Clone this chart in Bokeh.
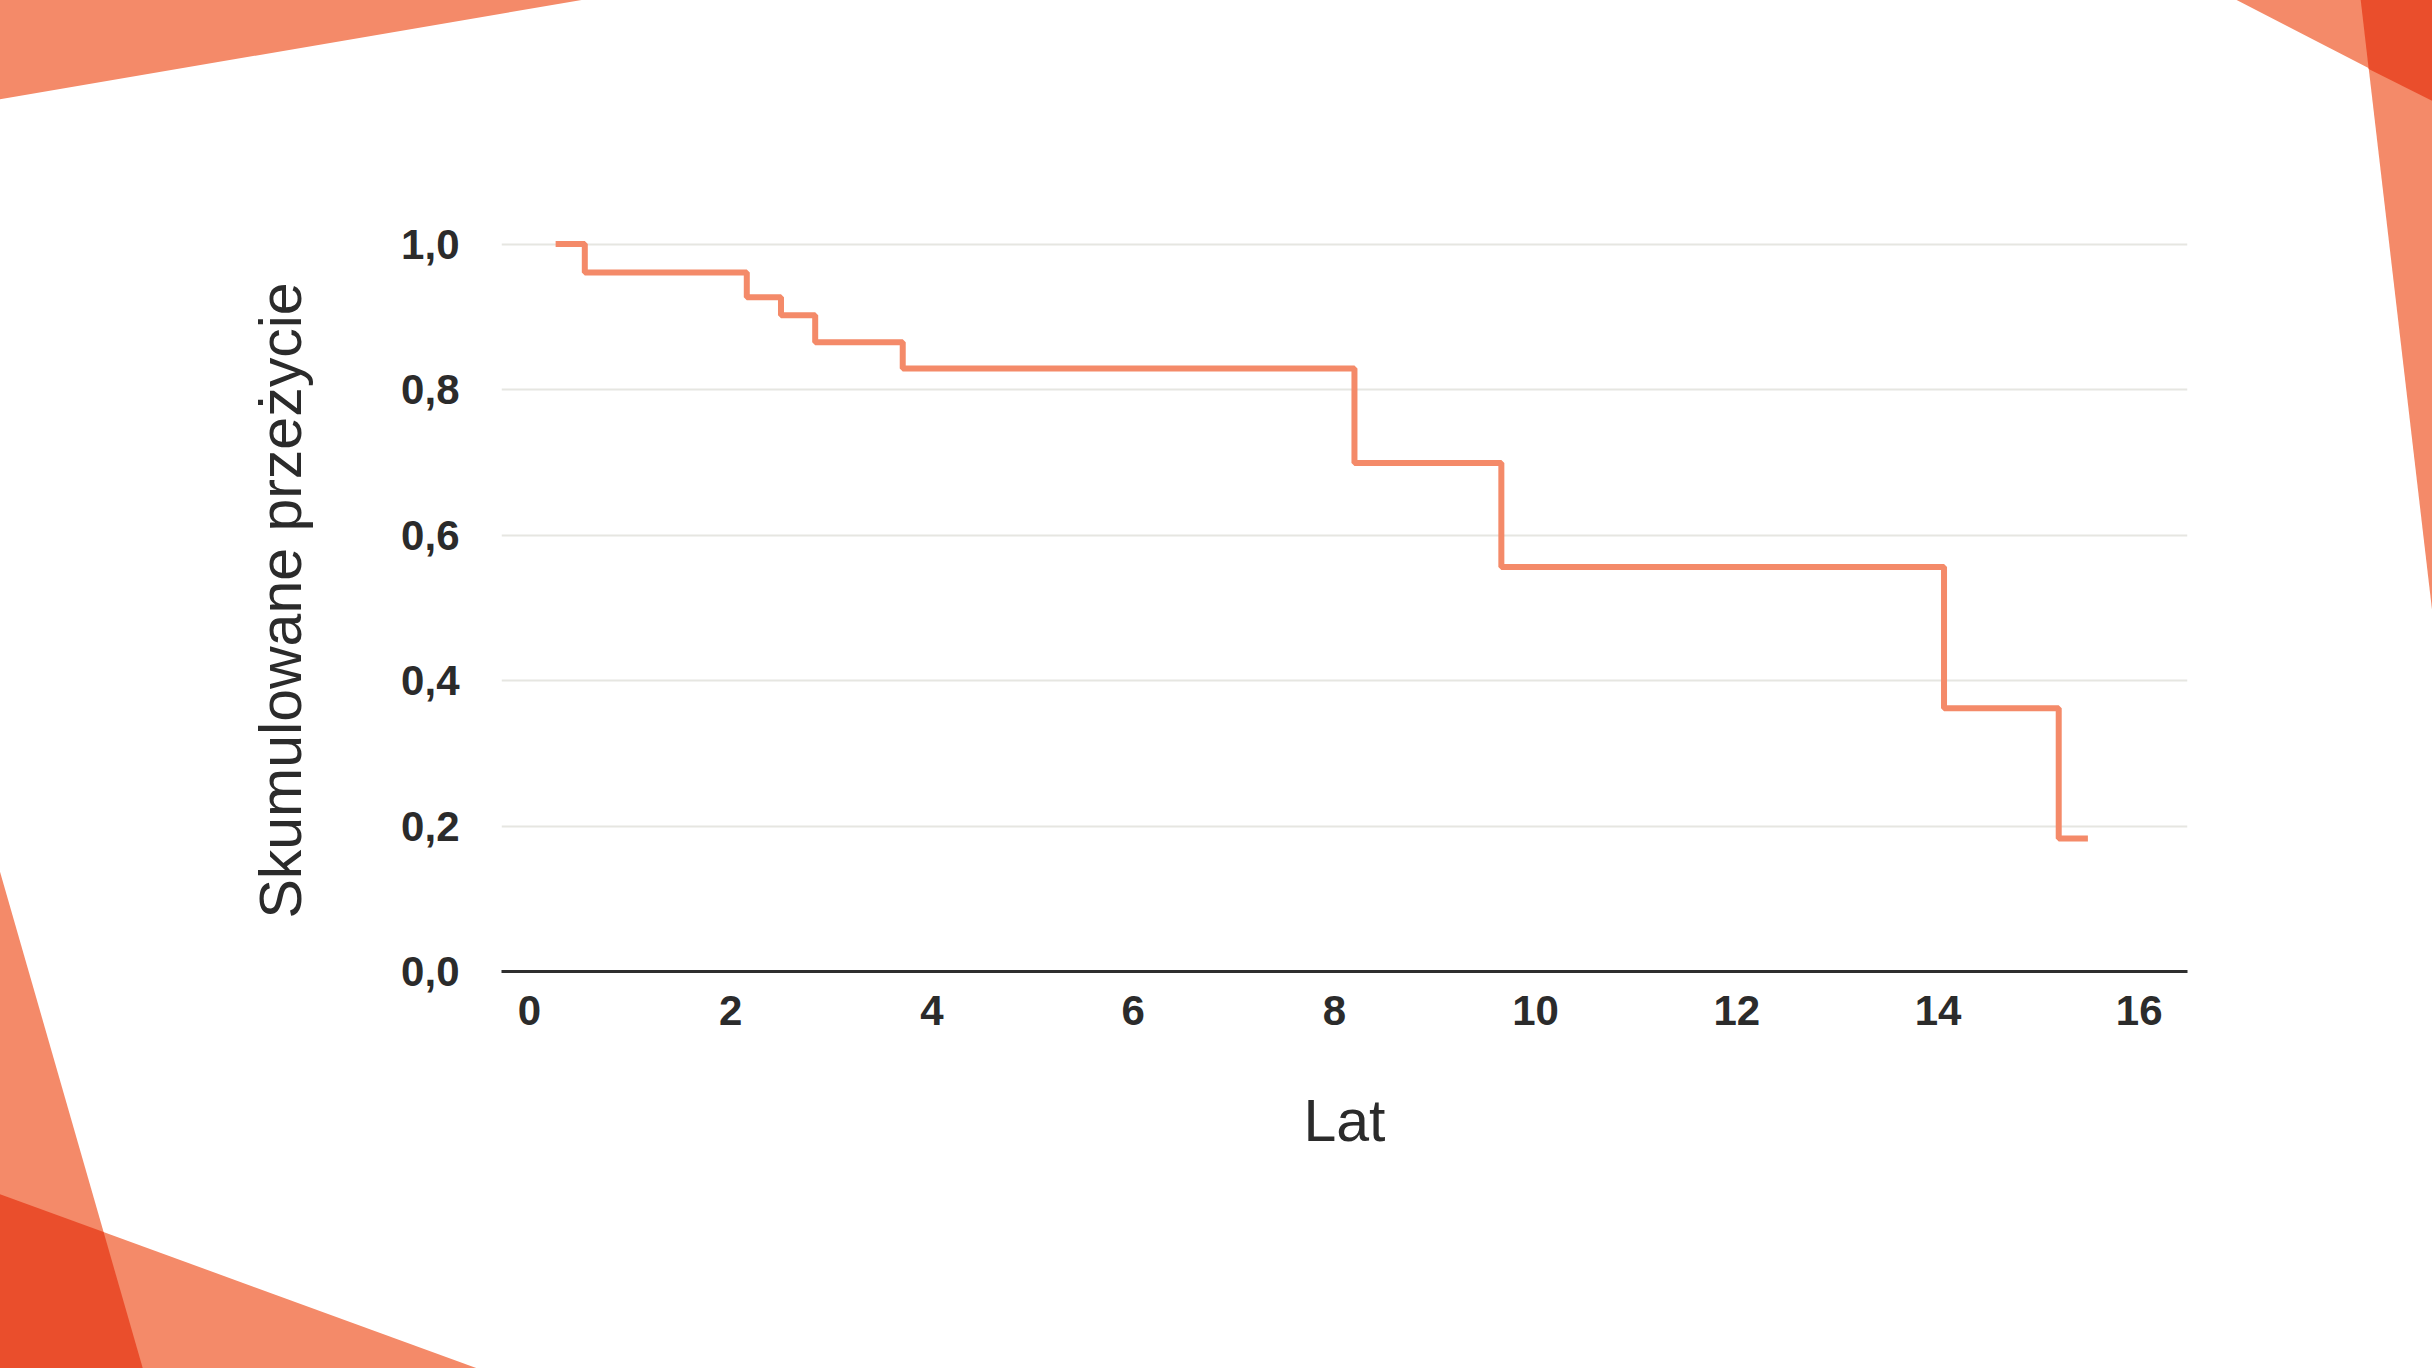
import urllib.parse
from bokeh.plotting import figure
from bokeh.models import FixedTicker
from bokeh.embed import file_html
from bokeh.resources import INLINE

# ---- data ----
time_years = [0.26, 0.55, 2.16, 2.50, 2.84, 3.71, 8.20, 9.66, 14.06, 15.20, 15.49]
survival = [1.0, 0.961, 0.927, 0.902, 0.865, 0.829, 0.699, 0.556, 0.362, 0.183, 0.183]

x_ticks = [0, 2, 4, 6, 8, 10, 12, 14, 16]
x_tick_labels = ["0", "2", "4", "6", "8", "10", "12", "14", "16"]
y_ticks = [0.0, 0.2, 0.4, 0.6, 0.8, 1.0]
y_tick_labels = ["0,0", "0,2", "0,4", "0,6", "0,8", "1,0"]
x_title = "Lat"
y_title = "Skumulowane przeżycie"

# ---- styles ----
LINE = "#F48A69"
LIGHT = "#F48A69"
DARK = "#EA4E2C"
TEXT = "#2B2B2B"
GRID = "#E6E6E1"

W, H = 2432, 1368
p = figure(width=W, height=H, output_backend="svg", toolbar_location=None,
           x_range=(-0.278, 16.48), y_range=(0, 1.02),
           min_border_left=501, min_border_right=245,
           min_border_top=229, min_border_bottom=397)
p.outline_line_color = None
p.background_fill_alpha = 0
p.border_fill_alpha = 0

p.step(time_years, survival, mode="after", line_color=LINE, line_width=6)

p.xgrid.visible = False
p.ygrid.grid_line_color = GRID
p.ygrid.grid_line_width = 2

p.xaxis.ticker = FixedTicker(ticks=x_ticks)
p.xaxis.major_label_overrides = {t: l for t, l in zip(x_ticks, x_tick_labels)}
p.yaxis.ticker = FixedTicker(ticks=y_ticks)
p.yaxis.major_label_overrides = {t: l for t, l in zip(y_ticks, y_tick_labels)}

for ax in (p.xaxis, p.yaxis):
    ax.major_tick_line_color = None
    ax.minor_tick_line_color = None
    ax.major_label_text_font = "Liberation Sans"
    ax.major_label_text_font_style = "bold"
    ax.major_label_text_font_size = "42px"
    ax.major_label_text_color = TEXT
    ax.axis_label_text_font = "Liberation Sans"
    ax.axis_label_text_font_style = "normal"
    ax.axis_label_text_font_size = "59px"
    ax.axis_label_text_color = TEXT

p.xaxis.axis_line_color = "#2F2F2F"
p.xaxis.axis_line_width = 3
p.xaxis.major_label_standoff = 18
p.xaxis.axis_label = x_title
p.xaxis.axis_label_standoff = 60
p.xaxis.axis_label_text_align = "right"

p.yaxis.axis_line_color = None
p.yaxis.major_label_standoff = 36
p.yaxis.axis_label = y_title
p.yaxis.axis_label_standoff = 84

# ---- decorative corner shapes (page background, in reference-preview pixels) ----
S = 2432 / 1568.0
decor = [
    (LIGHT, [(0, 0), (375, 0), (0, 64)]),
    (LIGHT, [(1442, 0), (1568, 0), (1568, 65)]),
    (LIGHT, [(1522, 0), (1568, 0), (1568, 393)]),
    (DARK, [(1522, 0), (1568, 0), (1568, 65), (1527.2, 44.4)]),
    (LIGHT, [(0, 562), (92, 882), (0, 882)]),
    (LIGHT, [(0, 770), (307, 882), (0, 882)]),
    (DARK, [(0, 770), (66.8, 794.4), (92, 882), (0, 882)]),
]
polys = "".join(
    '<polygon points="%s" fill="%s"/>' % (" ".join("%.1f,%.1f" % (x * S, y * S) for x, y in pts), col)
    for col, pts in decor
)
svg = ('<svg xmlns="http://www.w3.org/2000/svg" width="%d" height="%d" viewBox="0 0 %d %d">%s</svg>'
       % (W, H, W, H, polys))
uri = "data:image/svg+xml," + urllib.parse.quote(svg)
p.styles = {
    "background-color": "white",
    "background-image": 'url("%s")' % uri,
    "background-repeat": "no-repeat",
    "background-size": "%dpx %dpx" % (W, H),
}

open("out.html", "w").write(file_html(p, INLINE))
